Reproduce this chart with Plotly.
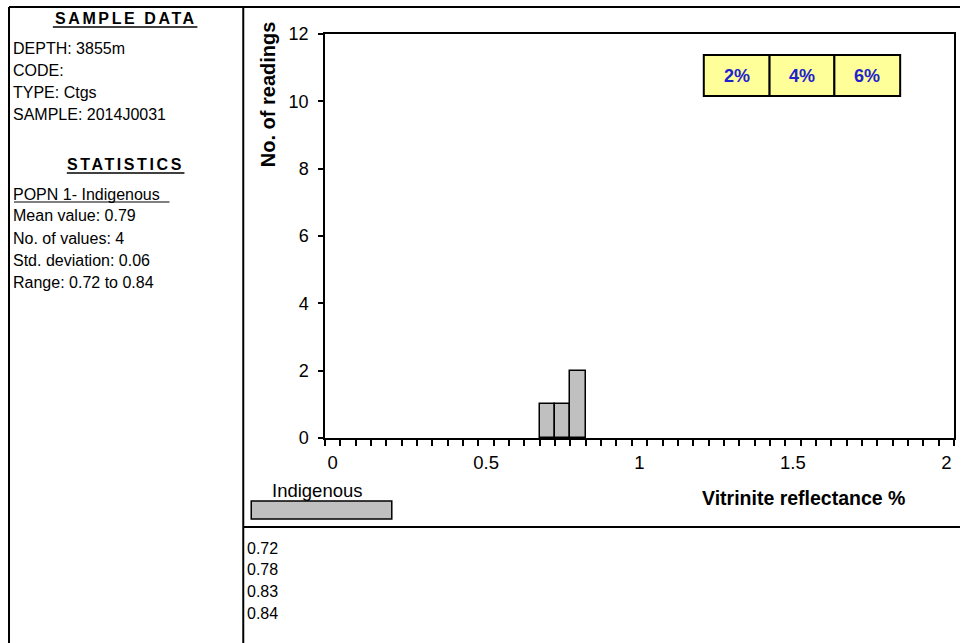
import numpy as np
import plotly.graph_objects as go

# ---- data ----
readings = [0.72, 0.78, 0.83, 0.84]
bin_width = 0.05
sample_lines = ["DEPTH: 3855m", "CODE:", "TYPE: Ctgs", "SAMPLE: 2014J0031"]
stat_title = "POPN 1- Indigenous"
stat_lines = ["Mean value: 0.79", "No. of values: 4", "Std. deviation: 0.06", "Range: 0.72 to 0.84"]
scale_labels = ["2%", "4%", "6%"]
x_ticks = [0, 0.5, 1, 1.5, 2]
x_ticktext = ["0", "0.5", "1", "1.5", "2"]
y_ticks = [0, 2, 4, 6, 8, 10, 12]

# histogram: each reading falls into the bin starting at floor(v / width) * width
idx = np.floor(np.array(readings) / bin_width + 1e-9).astype(int)
uniq, counts = np.unique(idx, return_counts=True)
bin_starts = uniq * bin_width

W, H = 962, 643
L, R, T, B = 325, 956, 34, 438  # plot area in pixels

def fx(px):
    return (px - L) / (R - L)

def fy(py):
    return (B - py) / (B - T)

FONT = "Liberation Sans, Arial, sans-serif"

fig = go.Figure()
fig.add_trace(go.Bar(
    x=bin_starts, y=counts, width=bin_width,
    marker=dict(color="#c0c0c0", line=dict(color="black", width=1.5)),
    showlegend=False, hoverinfo="skip",
))

shapes = []
annotations = []

def line(x0, y0, x1, y1, w=2):
    shapes.append(dict(type="line", xref="paper", yref="paper",
                       x0=fx(x0), y0=fy(y0), x1=fx(x1), y1=fy(y1),
                       line=dict(color="black", width=w), layer="above"))

def text(x, y, s, size=16, anchor="left", bold=False, color="black", angle=0, spacing=None):
    if bold:
        s = "<b>" + s + "</b>"
    if spacing is not None:
        s = '<span style="letter-spacing:%.1fpx">%s</span>' % (spacing, s)
    annotations.append(dict(xref="paper", yref="paper", x=fx(x), y=fy(y), text=s,
                            showarrow=False, xanchor=anchor, yanchor="middle",
                            textangle=angle, borderpad=0,
                            font=dict(family=FONT, size=size, color=color)))

# table frame
line(8, 7, 962, 7)
line(8, 7, 8, 643)
line(243, 7, 243, 643)
line(243, 527, 962, 527)

# sample data panel
text(125, 19, "SAMPLE DATA", size=16, anchor="center", bold=True, spacing=2.6)
line(52, 27, 197, 27, 1.5)
for i, s in enumerate(sample_lines):
    text(11, 48 + i * 22.2, s)

text(125, 165, "STATISTICS", size=16, anchor="center", bold=True, spacing=2.6)
line(66, 173, 184, 173, 1.5)
text(11, 194, stat_title)
line(13, 202, 169, 202, 1)
for i, s in enumerate(stat_lines):
    text(11, 216 + i * 22.3, s)

# reading list below the chart
for i, v in enumerate(readings):
    text(246, 548 + i * 21.7, "%.2f" % v)

# axis titles
text(268, 94, "No. of readings", size=20, anchor="center", bold=True, angle=-90)
text(805, 498, "Vitrinite reflectance %", size=19.5, anchor="center", bold=True)

# population key
text(271, 490, "Indigenous", size=18.5)
shapes.append(dict(type="rect", xref="paper", yref="paper",
                   x0=fx(251), y0=fy(519), x1=fx(392), y1=fy(501),
                   fillcolor="#c0c0c0", line=dict(color="black", width=1.5), layer="above"))

# percentage scale boxes
bx = [705, 771, 836, 902]
for i, s in enumerate(scale_labels):
    shapes.append(dict(type="rect", xref="paper", yref="paper",
                       x0=fx(bx[i]), y0=fy(96), x1=fx(bx[i + 1]), y1=fy(55),
                       fillcolor="#ffff99", line=dict(color="black", width=2), layer="above"))
    text((bx[i] + bx[i + 1]) / 2, 76, s, size=18, anchor="center", bold=True, color="#2222cc")

fig.update_layout(
    width=W, height=H,
    margin=dict(l=L, r=W - R, t=T, b=H - B, pad=0),
    paper_bgcolor="white", plot_bgcolor="white",
    shapes=shapes, annotations=annotations,
    bargap=0,
    font=dict(family=FONT, color="black"),
    xaxis=dict(
        range=[-0.025, 2.025], tickvals=x_ticks, ticktext=x_ticktext,
        ticks="", showgrid=False, zeroline=False,
        showline=True, linecolor="black", linewidth=1.5, mirror=True,
        tickfont=dict(size=18.5), ticklabelstandoff=7,
        minor=dict(tick0=-0.025, dtick=bin_width, ticks="outside", ticklen=6,
                   tickwidth=1.5, tickcolor="black", showgrid=False),
    ),
    yaxis=dict(
        range=[0, 12], tickvals=y_ticks, ticks="outside", ticklen=5, tickwidth=1.5,
        tickcolor="black", showgrid=False, zeroline=False,
        showline=True, linecolor="black", linewidth=1.5, mirror=True,
        tickfont=dict(size=18), ticklabelstandoff=6,
    ),
)

fig.write_html("out.html")
